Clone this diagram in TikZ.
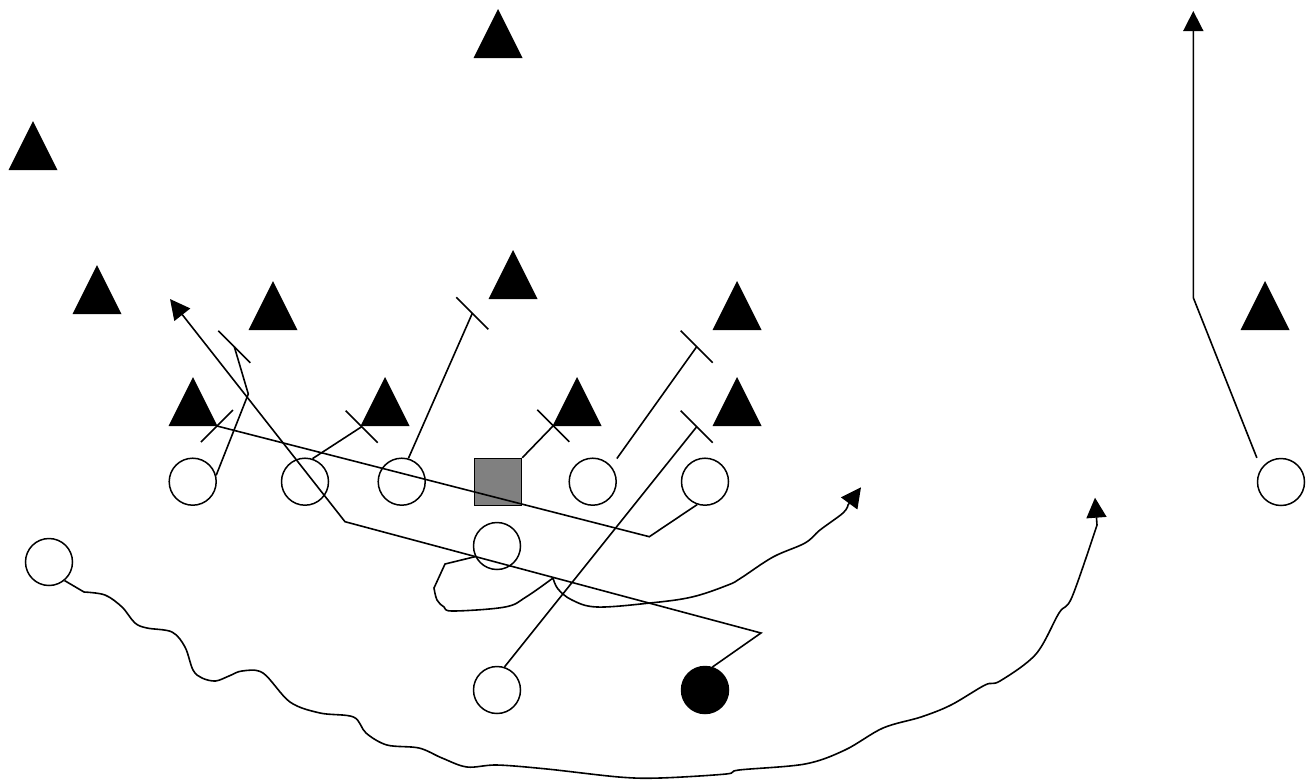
\documentclass[tikz,border=0pt]{standalone}
\usepackage{tikz}
\usetikzlibrary{arrows.meta,calc,shapes.geometric}
\definecolor{ctrGray}{RGB}{128,128,128}
% blocking bar at a route end: #1 point, #2 = 1 for \ and -1 for /
\newcommand{\blockbar}[2]{%
  \draw ($(#1)+(-16,-16*#2)$) -- ($(#1)+(16,16*#2)$);
}

\begin{document}
\begin{tikzpicture}[x=1pt,y=-1pt,line width=1.6pt,
  defender/.style={isosceles triangle,isosceles triangle stretches,shape border rotate=90,
    minimum width=49pt,minimum height=49pt,inner sep=0pt,outer sep=0pt,fill=black,anchor=apex},
  player/.style={circle,draw,minimum size=47pt,inner sep=0pt,line width=1.5pt},
  route/.style={-{Triangle[length=20pt,width=20pt]}}]
  \useasboundingbox (0,0) rectangle (1314,780);

  % defense
  \foreach \n/\x/\y in {d1/498/9,d2/33/121,d3/97/265,d4/273/281,d5/193/377,d6/385/377,
                        d7/513/250,d8/737/281,d9/577/377,d10/737/377,d11/1265/281}
    \node[defender] (\n) at (\x,\y) {};

  % offense
  \node[player] (le) at (192.7,481.7) {};
  \node[player] (lt) at (305,481.7) {};
  \node[player] (lg) at (401.7,481.7) {};
  \node[player,rectangle,fill=ctrGray] (ctr) at (498,482) {};
  \node[player] (rg) at (592.7,481.7) {};
  \node[player] (rt) at (705,481.7) {};
  \node[player] (qb) at (497,546) {};
  \node[player] (wl) at (49,562) {};
  \node[player] (hb) at (497,690) {};
  \node[player,fill=black] (fb) at (705,690) {};
  \node[player] (wr) at (1281,482) {};

  % blocks
  \coordinate (leEnd) at (234.3,346.7);
  \coordinate (ltEnd) at (361.7,426.7);
  \coordinate (lgEnd) at (472.3,313.3);
  \coordinate (ctrEnd) at (553.3,425.7);
  \coordinate (rgEnd) at (696.7,346.7);
  \coordinate (hbEnd) at (696.7,426.7);
  \coordinate (rtEnd) at (217,426);
  \draw (le.15) -- (248.3,394) -- (leEnd);
  \draw (lt.72) -- (ltEnd);
  \draw (lg.74) -- (lgEnd);
  \draw (ctr.north east) -- (ctrEnd);
  \draw ([shift={(7,-6)}]rg.north east) -- (rgEnd);
  \draw (hb.72) -- (hbEnd);
  \draw (rt.-109) -- (649.3,536.7) -- (rtEnd);
  \foreach \e in {leEnd,ltEnd,lgEnd,ctrEnd,rgEnd,hbEnd}
    {\blockbar{\e}{1}}
  \blockbar{rtEnd}{-1}

  % routes
  \coordinate (fbEnd) at (170,299);
  \coordinate (wrEnd) at (1193.3,11);
  \coordinate (qbEnd) at (861,487.3);
  \coordinate (wlEnd) at (1095,497.7);
  \draw[route] (fb.72) -- (761,633) -- (345,521.7) -- (fbEnd);
  \draw[route] ([shift={(-7,-7)}]wr.north west) -- (1193.3,297.7) -- (wrEnd);
  \draw[route] (qb.206) -- (445,564)
    -- plot[smooth,tension=0.6] coordinates {(434,588) (437,600) (444,607) (453,611)
       (505,607) (526,597) (553,578)}
    plot[smooth,tension=0.6] coordinates {(553,578) (558,589) (572,600) (597,607)
       (650,603) (692,597) (728,585) (741,578) (773,557) (805,543) (820,530)
       (843,513) (848,505)} -- (qbEnd);
  \draw[route] (wl.-50)
    -- plot[smooth,tension=0.55] coordinates {(84,592) (105,595) (122,607) (135,623)
       (147,628) (172,632) (185,647) (193,670) (202,678) (215.5,681) (229,676)
       (242,671) (263,673) (290,702) (320,713) (353.5,717) (366,733) (387,745)
       (419,748) (442,758) (467,767) (497,765) (547,769) (619,777) (660,778)
       (726,774) (739,770) (805,764) (845,750) (883,728) (921,717) (951,705)
       (985,685) (1000,681) (1036,654) (1059,613) (1072,597) (1097,525)} -- (wlEnd);
\end{tikzpicture}
\end{document}
